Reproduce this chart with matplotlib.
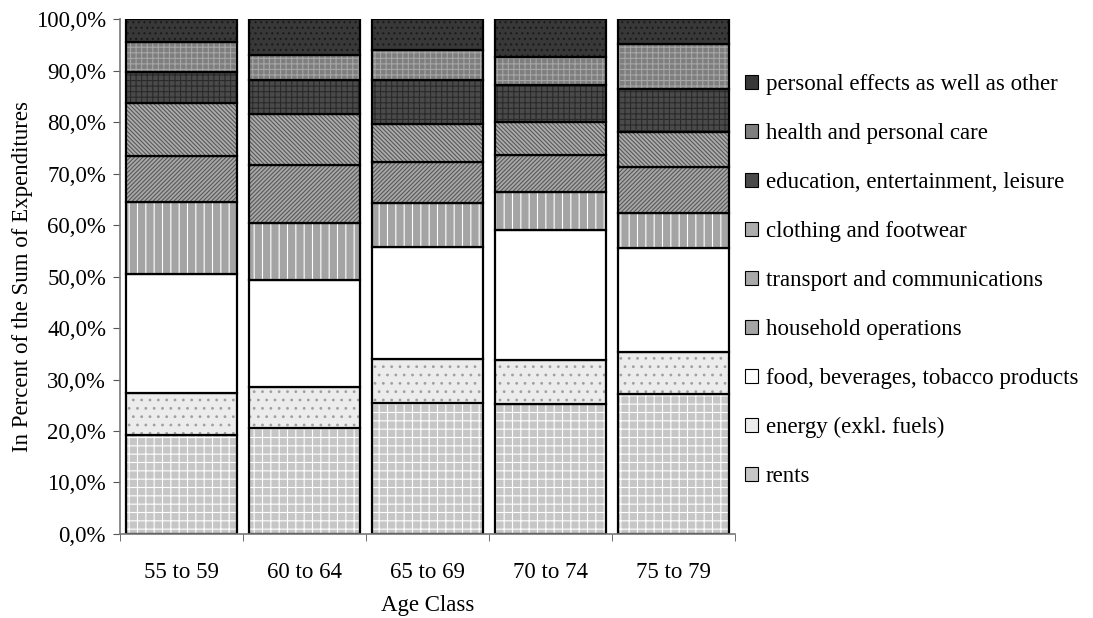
import matplotlib
matplotlib.use("Agg")
import matplotlib.pyplot as plt
from matplotlib.patches import Patch
from matplotlib.ticker import FuncFormatter, FixedLocator
import numpy as np

# age classes and expenditure shares (percent)
age_classes = ["55 to 59", "60 to 64", "65 to 69", "70 to 74", "75 to 79"]
rents = [19.3, 20.6, 25.5, 25.2, 27.1]
energy = [8.1, 7.9, 8.5, 8.5, 8.3]
food = [23.0, 20.8, 21.8, 25.4, 20.2]
household = [14.1, 11.1, 8.5, 7.4, 6.7]
transport = [8.9, 11.3, 7.9, 7.2, 9.0]
clothing = [10.3, 9.8, 7.5, 6.3, 6.8]
education = [6.0, 6.7, 8.5, 7.2, 8.3]
health = [5.8, 4.9, 5.8, 5.5, 8.7]
personal = [4.5, 6.9, 6.0, 7.3, 4.9]

series = [
    ("rents", rents),
    ("energy (exkl. fuels)", energy),
    ("food, beverages, tobacco products", food),
    ("household operations", household),
    ("transport and communications", transport),
    ("clothing and footwear", clothing),
    ("education, entertainment, leisure", education),
    ("health and personal care", health),
    ("personal effects as well as other", personal),
]

# (face colour, hatch colour, hatch) per series, grey pattern look
styles = [
    ("#c6c6c6", "white", "++"),
    ("#ececec", "#a0a0a0", ".."),
    ("white", "white", None),
    ("#a4a4a4", "white", "||"),
    ("#a8a8a8", "#585858", "////////"),
    ("#acacac", "#585858", "\\\\\\\\\\\\\\\\"),
    ("#4a4a4a", "#2a2a2a", "+++"),
    ("#7e7e7e", "#a6a6a6", "+++"),
    ("#383838", "#1a1a1a", "..."),
]

plt.rcParams["font.family"] = ["Liberation Serif", "DejaVu Serif"]
plt.rcParams["hatch.linewidth"] = 0.8

fig = plt.figure(figsize=(10.93, 6.18), dpi=100)
ax = fig.add_axes([0.1098, 0.136, 0.5627, 0.833])

x = np.arange(len(age_classes))
bottom = np.zeros(len(age_classes))
handles = []
for (name, vals), (face, hc, hatch) in zip(series, styles):
    vals = np.array(vals)
    ax.bar(x, vals, 0.9, bottom=bottom, color=face, edgecolor=hc,
           hatch=hatch, linewidth=0)
    ax.bar(x, vals, 0.9, bottom=bottom, fill=False, edgecolor="black",
           linewidth=1.6)
    handles.append(Patch(facecolor=face, edgecolor="black", linewidth=0.8,
                         label=name))
    bottom += vals

ax.set_xlim(-0.5, len(age_classes) - 0.5)
ax.set_ylim(0, 100)

ax.set_xticks(x)
ax.set_xticklabels(age_classes, fontsize=16.5)
ax.tick_params(axis="x", which="major", length=0, pad=20)
ax.xaxis.set_minor_locator(FixedLocator(np.arange(-0.5, len(age_classes), 1.0)))
ax.tick_params(axis="x", which="minor", length=5, direction="out", color="#555555")

ax.set_yticks(np.arange(0, 101, 10))
ax.yaxis.set_major_formatter(FuncFormatter(lambda v, p: f"{v:.1f}".replace(".", ",") + "%"))
ax.tick_params(axis="y", labelsize=16.5, length=5, direction="out", color="#555555", pad=5)

for s in ["top", "right"]:
    ax.spines[s].set_visible(False)
for s in ["left", "bottom"]:
    ax.spines[s].set_color("#777777")
    ax.spines[s].set_linewidth(1.2)

ax.set_xlabel("Age Class", fontsize=16.5, labelpad=9)
ax.set_ylabel("In Percent of the Sum of Expenditures", fontsize=16.5, labelpad=2)

fig.legend(handles[::-1], [h.get_label() for h in handles[::-1]],
           loc="center left", bbox_to_anchor=(0.6816, 0.546),
           frameon=False, fontsize=16.5, handlelength=0.57, handleheight=0.57,
           handletextpad=0.35, labelspacing=1.22, borderpad=0,
           borderaxespad=0)

fig.savefig("out.png", dpi=100)
